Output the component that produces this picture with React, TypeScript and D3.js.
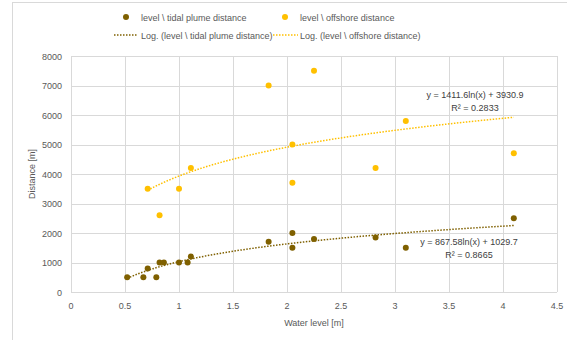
import React, { useEffect, useRef } from 'react';
import * as d3 from 'd3';

// tidal plume distance vs water level
const tidalLevel = [0.52, 0.67, 0.79, 0.71, 0.82, 0.86, 1.0, 1.08, 1.11, 1.83, 2.05, 2.05, 2.25, 2.82, 3.1, 4.1];
const tidalDist = [500, 500, 500, 800, 1000, 1000, 1000, 1000, 1200, 1700, 2000, 1500, 1800, 1850, 1500, 2500];

// offshore distance vs water level
const offLevel = [0.71, 0.82, 1.0, 1.11, 1.83, 2.05, 2.05, 2.25, 2.82, 3.1, 4.1];
const offDist = [3500, 2600, 3500, 4200, 7000, 5000, 3700, 7500, 4200, 5800, 4700];

// log trendline coefficients, y = a ln(x) + b
const tidalFit = { a: 867.58, b: 1029.7, r2: '0.8665' };
const offFit = { a: 1411.6, b: 3930.9, r2: '0.2833' };

const xTicks = [0, 0.5, 1, 1.5, 2, 2.5, 3, 3.5, 4, 4.5];
const yTicks = [0, 1000, 2000, 3000, 4000, 5000, 6000, 7000, 8000];

const tidalColor = '#7f6000';
const offColor = '#ffc000';
const FONT = "'Liberation Sans', Arial, sans-serif";
const FS = 9;

function App() {
    const ref = useRef<SVGSVGElement>(null);

    useEffect(() => {
        const svg = d3.select(ref.current);
        svg.selectAll('*').remove();

        const w = 567, h = 340;
        const left = 71, right = 557, top = 56, bottom = 292;

        svg.attr('width', w).attr('height', h).style('font-family', FONT);

        // chart frame
        svg.append('rect')
            .attr('x', 12.5).attr('y', 2.5)
            .attr('width', w).attr('height', h)
            .attr('fill', 'white').attr('stroke', '#d9d9d9');

        const x = d3.scaleLinear().domain([0, 4.5]).range([left, right]);
        const y = d3.scaleLinear().domain([0, 8000]).range([bottom, top]);

        // grid
        svg.append('g').selectAll('line').data(yTicks).enter().append('line')
            .attr('x1', left).attr('x2', right)
            .attr('y1', d => Math.round(y(d)) + 0.5).attr('y2', d => Math.round(y(d)) + 0.5)
            .attr('stroke', '#d9d9d9');
        svg.append('g').selectAll('line').data(xTicks).enter().append('line')
            .attr('y1', top).attr('y2', bottom)
            .attr('x1', d => Math.round(x(d)) + 0.5).attr('x2', d => Math.round(x(d)) + 0.5)
            .attr('stroke', '#d9d9d9');

        // tick labels
        svg.append('g').selectAll('text').data(yTicks).enter().append('text')
            .attr('x', left - 9).attr('y', d => y(d) + 3.5)
            .attr('text-anchor', 'end').attr('font-size', FS).attr('fill', '#595959')
            .text(d => d);
        svg.append('g').selectAll('text').data(xTicks).enter().append('text')
            .attr('x', d => x(d)).attr('y', bottom + 17)
            .attr('text-anchor', 'middle').attr('font-size', FS).attr('fill', '#595959')
            .text(d => d);

        // axis titles
        svg.append('text')
            .attr('transform', `translate(35,${(top + bottom) / 2}) rotate(-90)`)
            .attr('text-anchor', 'middle').attr('font-size', FS).attr('fill', '#595959')
            .text('Distance [m]');
        svg.append('text')
            .attr('x', (left + right) / 2).attr('y', 326)
            .attr('text-anchor', 'middle').attr('font-size', FS).attr('fill', '#595959')
            .text('Water level [m]');

        // trendlines
        const line = d3.line<number[]>().x(d => x(d[0])).y(d => y(d[1]));
        const trend = (xs: number[], fit: { a: number, b: number }, color: string) => {
            const lo = d3.min(xs) as number, hi = d3.max(xs) as number;
            const pts = d3.range(0, 61).map(i => {
                const v = lo + (hi - lo) * i / 60;
                return [v, fit.a * Math.log(v) + fit.b];
            });
            svg.append('path').datum(pts).attr('d', line)
                .attr('fill', 'none').attr('stroke', color)
                .attr('stroke-width', 1.5).attr('stroke-dasharray', '1.5 1.5');
        };
        trend(offLevel, offFit, offColor);
        trend(tidalLevel, tidalFit, tidalColor);

        // points
        svg.append('g').selectAll('circle').data(offLevel).enter().append('circle')
            .attr('cx', d => x(d)).attr('cy', (d, i) => y(offDist[i]))
            .attr('r', 3).attr('fill', offColor);
        svg.append('g').selectAll('circle').data(tidalLevel).enter().append('circle')
            .attr('cx', d => x(d)).attr('cy', (d, i) => y(tidalDist[i]))
            .attr('r', 3).attr('fill', tidalColor);

        // equations
        const eq = (cx: number, cy: number, fit: { a: number, b: number, r2: string }) => {
            svg.append('text').attr('x', cx).attr('y', cy)
                .attr('text-anchor', 'middle').attr('font-size', FS).attr('fill', '#404040')
                .text(`y = ${fit.a}ln(x) + ${fit.b}`);
            svg.append('text').attr('x', cx).attr('y', cy + 13)
                .attr('text-anchor', 'middle').attr('font-size', FS).attr('fill', '#404040')
                .text(`R² = ${fit.r2}`);
        };
        eq(475, 98, offFit);
        eq(469, 245, tidalFit);

        // legend
        const lg = svg.append('g').attr('font-size', FS).attr('fill', '#595959');
        lg.append('circle').attr('cx', 126).attr('cy', 17).attr('r', 3).attr('fill', tidalColor);
        lg.append('text').attr('x', 141).attr('y', 20.5).text('level \\ tidal plume distance');
        lg.append('circle').attr('cx', 285).attr('cy', 17).attr('r', 3).attr('fill', offColor);
        lg.append('text').attr('x', 300).attr('y', 20.5).text('level \\ offshore distance');

        lg.append('line').attr('x1', 114).attr('x2', 138).attr('y1', 35).attr('y2', 35)
            .attr('stroke', tidalColor).attr('stroke-width', 1.5).attr('stroke-dasharray', '1.5 1.5');
        lg.append('text').attr('x', 141).attr('y', 38.5).text('Log. (level \\ tidal plume distance)');
        lg.append('line').attr('x1', 273).attr('x2', 298).attr('y1', 35).attr('y2', 35)
            .attr('stroke', offColor).attr('stroke-width', 1.5).attr('stroke-dasharray', '1.5 1.5');
        lg.append('text').attr('x', 300).attr('y', 38.5).text('Log. (level \\ offshore distance)');
    }, []);

    return (
        <svg ref={ref} style={{ position: 'absolute', left: 0, top: 0, display: 'block' }}></svg>
    );
}

export default App;
